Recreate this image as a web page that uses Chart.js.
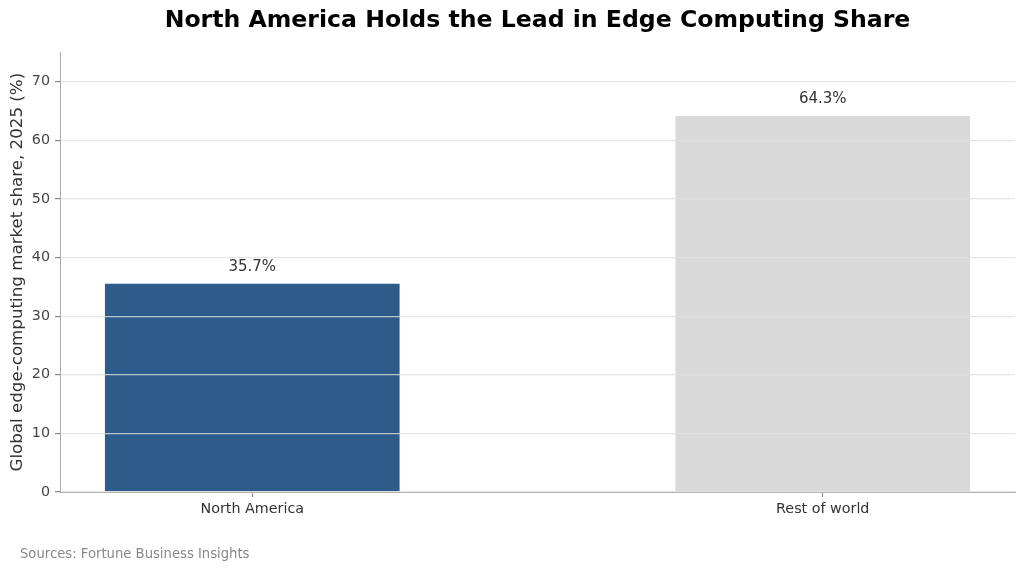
<!DOCTYPE html>
<html>
<head>
<meta charset="utf-8">
<script src="https://cdn.jsdelivr.net/npm/chart.js@4.4.1/dist/chart.umd.min.js"></script>
<style>
html,body{margin:0;padding:0;background:#fff;}
#wrap{width:1024px;height:573px;position:relative;}
</style>
</head>
<body>
<div id="wrap"><canvas id="c" width="1024" height="573"></canvas></div>
<script>
const categories = ["North America", "Rest of world"];
const shareValues = [35.7, 64.3];
const barColors = ["#2e5c8a", "#d9d9d9"];
const yTicks = [0, 10, 20, 30, 40, 50, 60, 70];
const chartTitle = "North America Holds the Lead in Edge Computing Share";
const yTitle = "Global edge-computing market share, 2025 (%)";
const sourceText = "Sources: Fortune Business Insights";

const FONT = "'DejaVu Sans', sans-serif";

const labelPlugin = {
  id: 'barLabels',
  afterDatasetsDraw(chart) {
    const ctx = chart.ctx;
    const meta = chart.getDatasetMeta(0);
    ctx.save();
    ctx.font = "15px " + FONT;
    ctx.fillStyle = "#333";
    ctx.textAlign = "center";
    ctx.textBaseline = "middle";
    meta.data.forEach((el, i) => {
      ctx.fillText(shareValues[i].toFixed(1) + "%", el.x, el.y - 16);
    });
    ctx.restore();
  },
  afterDraw(chart) {
    const ctx = chart.ctx;
    ctx.save();
    ctx.font = "13.2px " + FONT;
    ctx.fillStyle = "#888";
    ctx.textAlign = "left";
    ctx.textBaseline = "middle";
    ctx.fillText(sourceText, 20, 555);
    ctx.restore();
  }
};

new Chart(document.getElementById('c'), {
  type: 'bar',
  data: {
    datasets: [{
      data: categories.map((c, i) => ({x: i, y: shareValues[i]})),
      backgroundColor: barColors,
      borderColor: "rgba(255,255,255,0.35)",
      borderWidth: 1,
      barPercentage: 0.52,
      categoryPercentage: 1.0
    }]
  },
  options: {
    responsive: false,
    animation: false,
    layout: { padding: { left: 0, right: 9, top: 0, bottom: 41 } },
    plugins: {
      legend: { display: false },
      tooltip: { enabled: false },
      title: {
        display: true,
        text: chartTitle,
        fullSize: false,
        color: "#000",
        font: { family: FONT, size: 23.6, weight: 'bold' },
        padding: { top: 7, bottom: 17 }
      }
    },
    scales: {
      x: {
        type: 'linear',
        min: -0.337,
        max: 1.337,
        offset: false,
        afterFit(s) { s.height = 40; },
        afterBuildTicks(s) { s.ticks = categories.map((c, i) => ({value: i})); },
        ticks: {
          autoSkip: false,
          callback: (v) => categories[v] !== undefined ? categories[v] : '',
          color: "#333",
          font: { family: FONT, size: 14.3 },
          padding: 4,
          maxRotation: 0
        },
        grid: { offset: false, drawOnChartArea: false, drawTicks: true, tickLength: 5, tickColor: "#888" },
        border: { display: true, color: "#aaa", width: 1 }
      },
      y: {
        min: 0,
        max: 75,
        afterFit(s) { s.width = 60; },
        afterBuildTicks(s) { s.ticks = yTicks.map(v => ({value: v})); },
        ticks: {
          color: "#444",
          font: { family: FONT, size: 14.3 },
          padding: 5
        },
        grid: { z: 1, color: "rgba(222,222,222,0.8)", lineWidth: 1.2, drawTicks: true, tickLength: 5, tickColor: "#888" },
        border: { display: true, color: "#aaa", width: 1, z: 2 },
        title: {
          display: true,
          text: yTitle,
          color: "#333",
          font: { family: FONT, size: 16.7 },
          padding: { top: 8, bottom: 2 }
        }
      }
    }
  },
  plugins: [labelPlugin]
});
</script>
</body>
</html>
